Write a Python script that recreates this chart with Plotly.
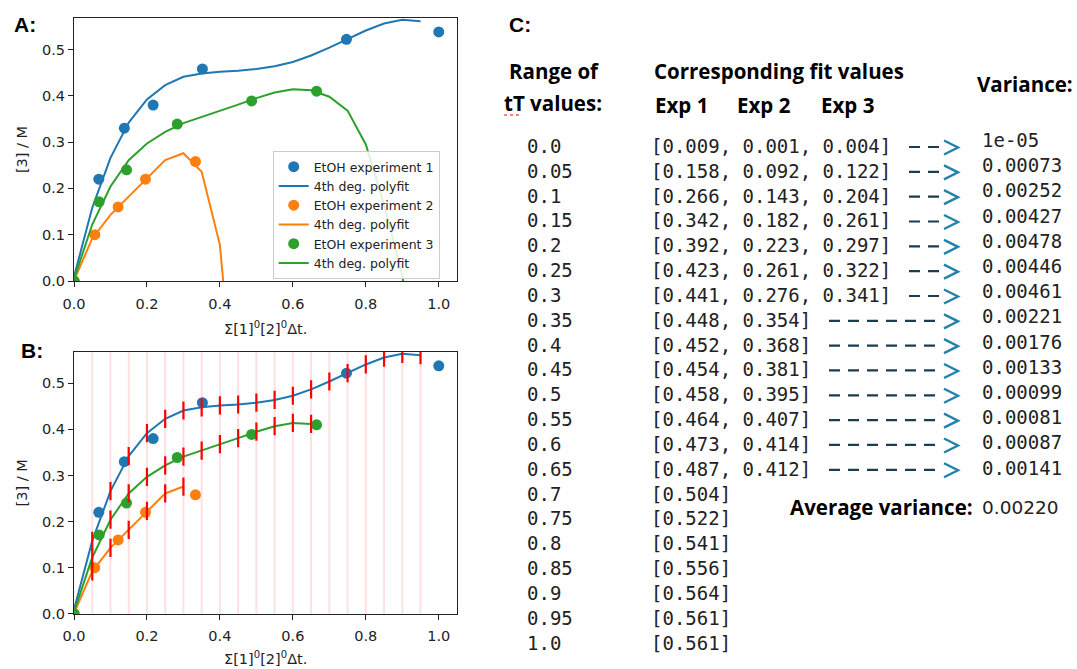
import plotly.graph_objects as go

W, H = 1077, 669

# ---------------- data ----------------
tT = [0.0, 0.05, 0.1, 0.15, 0.2, 0.25, 0.3, 0.35, 0.4, 0.45, 0.5,
      0.55, 0.6, 0.65, 0.7, 0.75, 0.8, 0.85, 0.9, 0.95, 1.0]
tT_labels = ["0.0", "0.05", "0.1", "0.15", "0.2", "0.25", "0.3", "0.35", "0.4", "0.45", "0.5",
             "0.55", "0.6", "0.65", "0.7", "0.75", "0.8", "0.85", "0.9", "0.95", "1.0"]

exp1_x = [0.0, 0.068, 0.138, 0.217, 0.352, 0.747, 1.0]
exp1_y = [0.0, 0.22, 0.33, 0.38, 0.458, 0.522, 0.538]
exp2_x = [0.0, 0.057, 0.121, 0.196, 0.333]
exp2_y = [0.0, 0.10, 0.16, 0.22, 0.258]
exp3_x = [0.0, 0.069, 0.144, 0.283, 0.487, 0.665]
exp3_y = [0.0, 0.171, 0.24, 0.339, 0.389, 0.41]

# fit values (table C)
fit1 = [0.009, 0.158, 0.266, 0.342, 0.392, 0.423, 0.441, 0.448, 0.452, 0.454, 0.458,
        0.464, 0.473, 0.487, 0.504, 0.522, 0.541, 0.556, 0.564, 0.561, 0.561]
fit2 = [0.001, 0.092, 0.143, 0.182, 0.223, 0.261, 0.276]
fit3 = [0.004, 0.122, 0.204, 0.261, 0.297, 0.322, 0.341, 0.354, 0.368, 0.381, 0.395,
        0.407, 0.414, 0.412]
# polyfit continuation shown in panel A
fit2_tail = [0.236, 0.078, -0.355]
fit3_tail = [0.398, 0.368, 0.295, 0.165, 0.012, -0.23]

variance = ["1e-05", "0.00073", "0.00252", "0.00427", "0.00478", "0.00446", "0.00461",
            "0.00221", "0.00176", "0.00133", "0.00099", "0.00081", "0.00087", "0.00141"]
avg_variance = "0.00220"

C1, C2, C3 = "#1f77b4", "#ff7f0e", "#2ca02c"

# ---------------- helpers ----------------
def px(x):
    return x / W

def py(y):
    return 1 - y / H

fig = go.Figure()

# ---------------- Panel A ----------------
n1 = 20  # blue fit drawn up to 0.95
fig.add_trace(go.Scatter(x=exp1_x, y=exp1_y, mode="markers", name="EtOH experiment 1",
                         marker=dict(color=C1, size=11), xaxis="x", yaxis="y"))
fig.add_trace(go.Scatter(x=tT[:n1], y=fit1[:n1], mode="lines", name="4th deg. polyfit",
                         line=dict(color=C1, width=2), xaxis="x", yaxis="y"))
fig.add_trace(go.Scatter(x=exp2_x, y=exp2_y, mode="markers", name="EtOH experiment 2",
                         marker=dict(color=C2, size=11), xaxis="x", yaxis="y"))
fig.add_trace(go.Scatter(x=tT[:len(fit2) + len(fit2_tail)], y=fit2 + fit2_tail, mode="lines",
                         name="4th deg. polyfit", line=dict(color=C2, width=2), xaxis="x", yaxis="y"))
fig.add_trace(go.Scatter(x=exp3_x, y=exp3_y, mode="markers", name="EtOH experiment 3",
                         marker=dict(color=C3, size=11), xaxis="x", yaxis="y"))
fig.add_trace(go.Scatter(x=tT[:len(fit3) + len(fit3_tail)], y=fit3 + fit3_tail, mode="lines",
                         name="4th deg. polyfit", line=dict(color=C3, width=2), xaxis="x", yaxis="y"))

# ---------------- Panel B ----------------
for ex, ey, fv, c in [(exp1_x, exp1_y, fit1[:n1], C1), (exp2_x, exp2_y, fit2, C2),
                      (exp3_x, exp3_y, fit3, C3)]:
    fig.add_trace(go.Scatter(x=ex, y=ey, mode="markers", marker=dict(color=c, size=11),
                             showlegend=False, xaxis="x2", yaxis="y2"))
    fig.add_trace(go.Scatter(x=tT[:len(fv)], y=fv, mode="lines", line=dict(color=c, width=2),
                             showlegend=False, xaxis="x2", yaxis="y2"))
for fv in [fit1[:n1], fit2, fit3]:
    fig.add_trace(go.Scatter(x=tT[1:len(fv)], y=fv[1:], mode="markers",
                             marker=dict(symbol="line-ns", size=13, color="red",
                                         line=dict(color="red", width=2.2)),
                             showlegend=False, xaxis="x2", yaxis="y2"))

shapes = []
for xv in tT[1:20]:
    shapes.append(dict(type="line", xref="x2", yref="y2 domain", x0=xv, x1=xv, y0=0, y1=1,
                       line=dict(color="rgba(255,0,0,0.12)", width=2), layer="below"))

# ---------------- axes ----------------
tick_font = dict(family="DejaVu Sans", size=14.5, color="#222")
lab_font = dict(family="DejaVu Sans", size=14.5, color="#222")
common = dict(showline=True, mirror=True, linecolor="#222", linewidth=1.2, ticks="outside",
              ticklen=5, tickwidth=1.2, tickcolor="#222", showgrid=False, zeroline=False,
              tickfont=tick_font, automargin=False)
xdom = [px(74), px(457)]
ytitle = dict(text="[3] / M", font=lab_font, standoff=10)
xt = dict(tickvals=[0, 0.2, 0.4, 0.6, 0.8, 1.0], tickformat=".1f", range=[0, 1.05],
          domain=xdom, ticklabelstandoff=4)
yt = dict(tickvals=[0, 0.1, 0.2, 0.3, 0.4, 0.5], tickformat=".1f", range=[0, 0.568],
          title=ytitle)
fig.update_layout(
    xaxis=dict(anchor="y", **xt, **common),
    yaxis=dict(domain=[py(281), py(18)], anchor="x", **yt, **common),
    xaxis2=dict(anchor="y2", **xt, **common),
    yaxis2=dict(domain=[py(613.7), py(352)], anchor="x2", **yt, **common),
)

ann = []
xlabel = "Σ[1]<sup>0</sup>[2]<sup>0</sup>Δt."
ann.append(dict(text=xlabel, x=px(265.5), y=py(328), xref="paper", yref="paper",
                showarrow=False, xanchor="center", yanchor="middle", font=lab_font))
ann.append(dict(text=xlabel, x=px(265.5), y=0, xref="paper", yref="paper",
                showarrow=False, xanchor="center", yanchor="bottom", font=lab_font))

letter_font = dict(family="Liberation Sans", size=21, color="black")
ann.append(dict(text="<b>A:</b>", x=px(12), y=py(25), xref="paper", yref="paper",
                showarrow=False, xanchor="left", yanchor="middle", font=letter_font))
ann.append(dict(text="<b>B:</b>", x=px(19), y=py(350), xref="paper", yref="paper",
                showarrow=False, xanchor="left", yanchor="middle", font=letter_font))
ann.append(dict(text="<b>C:</b>", x=px(507), y=py(25), xref="paper", yref="paper",
                showarrow=False, xanchor="left", yanchor="middle", font=letter_font))

# ---------------- Panel C (table) ----------------
head_font = dict(family="Open Sans", size=20.5, color="black")
def txt(s, x, y, font, anchor="left"):
    ann.append(dict(text=s, x=px(x), y=py(y), xref="paper", yref="paper", showarrow=False,
                    xanchor=anchor, yanchor="middle", font=font))

txt("<b>Range of</b>", 507, 71, head_font)
txt("<b>tT values:</b>", 502, 103, head_font)
txt("<b>Corresponding fit values</b>", 652, 71, head_font)
txt("<b>Exp 1</b>", 653, 105, head_font)
txt("<b>Exp 2</b>", 735, 105, head_font)
txt("<b>Exp 3</b>", 819, 105, head_font)
txt("<b>Variance:</b>", 975, 84, head_font)

mono = dict(family="DejaVu Sans Mono", size=19, color="#222")
row_y0, row_dy = 146, 24.83
for i, lab in enumerate(tT_labels):
    yy = row_y0 + row_dy * i
    txt(lab, 525, yy, mono)
    vals = [fit1[i]]
    if i < len(fit2):
        vals.append(fit2[i])
    if i < len(fit3):
        vals.append(fit3[i])
    txt("[" + ", ".join(f"{v:.3f}" for v in vals) + "]", 649, yy, mono)

dash_col, arrow_col = "#1c3d50", "#2282ab"
for i, v in enumerate(variance):
    yy = row_y0 + row_dy * i
    x0 = 909 if i < len(fit2) else 829
    shapes.append(dict(type="line", xref="paper", yref="paper", x0=px(x0), x1=px(939),
                       y0=py(yy + 1), y1=py(yy + 1),
                       line=dict(color=dash_col, width=2.2, dash="11px,8px")))
    # chevron ">" head
    shapes.append(dict(type="path", xref="paper", yref="paper",
                       path=(f"M {px(944)} {py(yy - 5.5)} L {px(958)} {py(yy + 1.5)} "
                             f"L {px(944)} {py(yy + 8.5)}"),
                       line=dict(color=arrow_col, width=2.4)))
    txt(v, 980, 140 + 25.2 * i, mono)

txt("<b>Average variance:</b>", 788, 507, head_font)
txt(avg_variance, 980, 507, dict(family="DejaVu Sans", size=18.5, color="#222"))

# spell-check squiggle under "tT"
shapes.append(dict(type="line", xref="paper", yref="paper", x0=px(504), x1=px(519),
                   y0=py(115), y1=py(115), line=dict(color="red", width=1, dash="dot")))

fig.update_layout(
    width=W, height=H, margin=dict(l=0, r=0, t=0, b=0),
    paper_bgcolor="white", plot_bgcolor="white",
    shapes=shapes, annotations=ann,
    legend=dict(x=px(272.7), y=py(151), xanchor="left", yanchor="top",
                bgcolor="rgba(255,255,255,0.85)", bordercolor="#cccccc", borderwidth=1,
                font=dict(family="DejaVu Sans", size=12.5, color="#222"),
                tracegroupgap=0),
)

fig.write_html("out.html")
